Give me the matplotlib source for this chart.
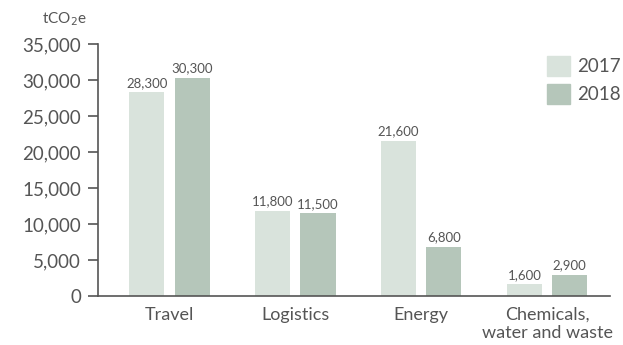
import matplotlib.pyplot as plt
from matplotlib.patches import Patch
import numpy as np

plt.rcParams['font.family'] = ['Lato', 'DejaVu Sans']

categories = ['Travel', 'Logistics', 'Energy', 'Chemicals,\nwater and waste']
emissions_2017 = [28300, 11800, 21600, 1600]
emissions_2018 = [30300, 11500, 6800, 2900]
years = ['2017', '2018']

c17 = '#d9e3dc'
c18 = '#b5c6ba'
grey = '#555555'

fig = plt.figure(figsize=(6.23, 3.45), dpi=100)
ax = fig.add_axes([0.157, 0.142, 0.822, 0.730])

x = np.arange(len(categories))
w = 0.28
off = 0.18
b1 = ax.bar(x - off, emissions_2017, w, color=c17)
b2 = ax.bar(x + off, emissions_2018, w, color=c18)

for bars, vals in [(b1, emissions_2017), (b2, emissions_2018)]:
    for r, v in zip(bars, vals):
        ax.text(r.get_x() + r.get_width() / 2, v + 500, f'{v:,}',
                ha='center', va='bottom', fontsize=9.5, color=grey)

ax.set_xlim(-0.57, 3.5)
ax.set_ylim(0, 35000)
ax.set_yticks(range(0, 35001, 5000))
ax.set_yticklabels([f'{v:,}' for v in range(0, 35001, 5000)])
ax.set_xticks(x)
ax.set_xticklabels(categories, fontsize=13, color=grey, linespacing=1.15)

for s in ['top', 'right']:
    ax.spines[s].set_visible(False)
for s in ['left', 'bottom']:
    ax.spines[s].set_color(grey)
    ax.spines[s].set_linewidth(1.2)
ax.tick_params(axis='y', length=7, width=1.2, color=grey, labelsize=13.5,
               labelcolor=grey, pad=5)
ax.tick_params(axis='x', length=0, pad=8)

fig.text(0.067, 0.945, 'tCO$_2$e', fontsize=11, color=grey, va='center')

handles = [Patch(color=c17), Patch(color=c18)]
ax.legend(handles, years, loc='upper right', bbox_to_anchor=(1.055, 1.02),
          frameon=False, fontsize=13.5, labelcolor=grey, handlelength=1.25,
          handleheight=1.25, handletextpad=0.4, labelspacing=0.45)

fig.savefig('out.png', dpi=100)
